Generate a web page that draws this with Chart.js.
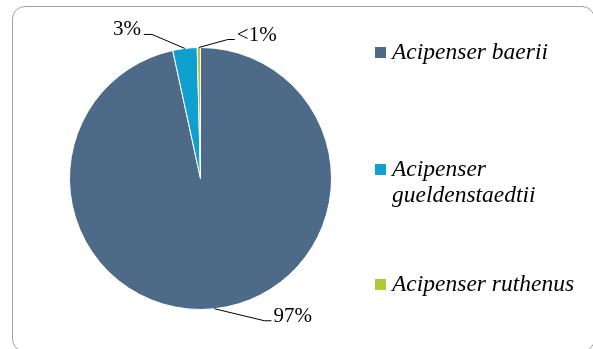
<!DOCTYPE html>
<html>
<head>
<meta charset="utf-8">
<script src="https://cdn.jsdelivr.net/npm/chart.js@4.4.1/dist/chart.umd.min.js"></script>
<style>
  html, body { margin: 0; padding: 0; background: #fff; overflow: hidden; }
  #wrap { position: relative; width: 593px; height: 349px; }
  #frame {
    position: absolute; left: 12px; top: 6px; width: 583px; height: 346px;
    border: 1.5px solid #a3a3a3; border-radius: 13px; box-sizing: border-box;
  }
  canvas { position: absolute; left: 0; top: 0; }
</style>
</head>
<body>
<div id="wrap">
  <div id="frame"></div>
  <canvas id="c" width="593" height="349"></canvas>
</div>
<script>
// Species shares of the catch (percent)
const species = ['Acipenser baerii', 'Acipenser gueldenstaedtii', 'Acipenser ruthenus'];
const legendLines = [['Acipenser baerii'], ['Acipenser', 'gueldenstaedtii'], ['Acipenser ruthenus']];
const shares = [96.6, 3.0, 0.4];
const colors = ['#4d6a89', '#10a0d0', '#b3c832'];

// Leader line geometry for each label: elbow offset from the slice edge,
// then a short horizontal run to where the text sits.
const leaders = [
  { elbow: [50, 12], run: 7, side: 'right' },
  { elbow: [-33, -14], run: -8, side: 'left' },
  { elbow: [29, -8], run: 7, side: 'right' }
];

function pctText(v) {
  return v < 1 ? '<1%' : Math.round(v) + '%';
}

const labelFont = '21px "Liberation Serif", serif';
const legendFont = 'italic 23.5px "Liberation Serif", serif';

const outsideLabels = {
  id: 'outsideLabels',
  afterDatasetsDraw(chart) {
    const ctx = chart.ctx;
    const meta = chart.getDatasetMeta(0);
    ctx.save();
    meta.data.forEach((arc, i) => {
      const p = arc.getProps(['x', 'y', 'startAngle', 'endAngle', 'outerRadius'], true);
      const mid = (p.startAngle + p.endAngle) / 2;
      const ex = p.x + Math.cos(mid) * p.outerRadius;
      const ey = p.y + Math.sin(mid) * p.outerRadius;
      const L = leaders[i];
      const bx = ex + L.elbow[0], by = ey + L.elbow[1];
      const cx = bx + L.run;
      ctx.strokeStyle = '#000';
      ctx.lineWidth = 1;
      ctx.beginPath();
      ctx.moveTo(ex, ey);
      ctx.lineTo(bx, by);
      ctx.lineTo(cx, by);
      ctx.stroke();
      ctx.fillStyle = '#000';
      ctx.font = labelFont;
      ctx.textBaseline = 'alphabetic';
      ctx.textAlign = L.side === 'right' ? 'left' : 'right';
      const tx = L.side === 'right' ? cx + 2 : cx - 3;
      ctx.fillText(pctText(shares[i]), tx, by + 1);
    });
    ctx.restore();
  }
};

const sideLegend = {
  id: 'sideLegend',
  afterDraw(chart) {
    const ctx = chart.ctx;
    const x0 = 375, box = 11, lineH = 26;
    const rows = [59, 176, 291];
    ctx.save();
    ctx.font = legendFont;
    ctx.textBaseline = 'alphabetic';
    ctx.textAlign = 'left';
    legendLines.forEach((lines, i) => {
      const base = rows[i];
      ctx.fillStyle = colors[i];
      ctx.fillRect(x0, base - 12, box, box);
      ctx.fillStyle = '#000';
      lines.forEach((t, k) => ctx.fillText(t, x0 + 17, base + k * lineH));
    });
    ctx.restore();
  }
};

new Chart(document.getElementById('c'), {
  type: 'pie',
  data: {
    labels: species,
    datasets: [{
      data: shares,
      backgroundColor: colors,
      borderColor: '#ffffff',
      borderWidth: 1
    }]
  },
  options: {
    responsive: false,
    animation: false,
    layout: { padding: { left: 69, right: 261, top: 47, bottom: 39 } },
    plugins: {
      legend: { display: false },
      tooltip: { enabled: false }
    }
  },
  plugins: [outsideLabels, sideLegend]
});
</script>
</body>
</html>
